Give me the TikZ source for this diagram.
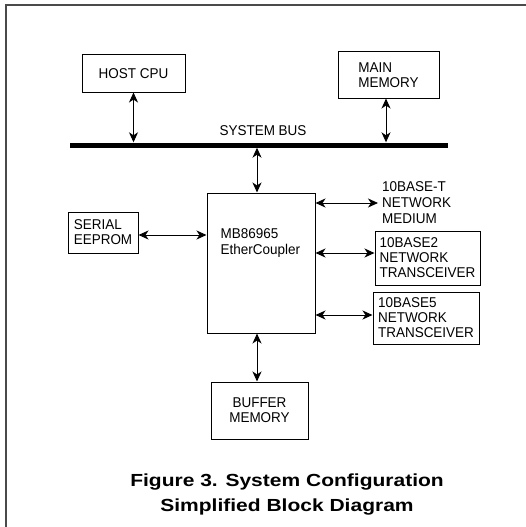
\documentclass[tikz,border=0pt]{standalone}
\usepackage{fontspec}
\setmainfont[FakeStretch=0.95]{Liberation Sans}
\newfontfamily\capfont[FakeStretch=1.2]{Liberation Sans}
\usepackage{tikz}
\usetikzlibrary{arrows.meta}
\definecolor{FigFrame}{HTML}{4A4A4A}

\begin{document}
\begin{tikzpicture}[x=1pt,y=-1pt,
  blk/.style={draw,line width=1pt,inner sep=3pt,font=\fontsize{14.2}{15}\selectfont},
  txt/.style={inner sep=0pt,align=left,font=\fontsize{14.2}{16}\selectfont},
  busline/.style={fill=black,inner sep=0pt,minimum height=5pt},
  biarrow/.style={{Stealth[length=10pt,width=9pt,inset=3pt]}-{Stealth[length=10pt,width=9pt,inset=3pt]},line width=0.9pt}]
\useasboundingbox (0,0) rectangle (526,527);
\draw[FigFrame,line width=2pt] (6,527) |- (526,5);

% bus and what hangs on it
\node[busline,minimum width=378pt] (bus) at (259,145) {};
\node[txt] (buslab) at (263,131) {SYSTEM BUS};
\node[blk,minimum width=103pt,minimum height=37pt] (cpu) at (133.5,73.5) {HOST CPU};
\node[blk,align=left,minimum width=101pt,minimum height=46pt] (mainmem) at (388.5,75) {MAIN\\MEMORY};

% controller and its neighbours
\node[blk,minimum width=108pt,minimum height=140pt] (chip) at (261,263) {};
\node[txt,anchor=west] (chiplab) at ([xshift=14pt,yshift=20pt]chip.west) {MB86965\\EtherCoupler};
\node[blk,align=left,minimum width=70pt,minimum height=41pt] (eeprom) at (103,232.5) {SERIAL\\EEPROM};
\node[txt,anchor=west] (tbase) at (382,203) {10BASE-T\\NETWORK\\MEDIUM};
\node[blk,align=left,minimum width=105pt,minimum height=54pt] (btwo) at (427.5,258) {10BASE2\\NETWORK\\TRANSCEIVER};
\node[blk,align=left,minimum width=106pt,minimum height=52pt] (bfive) at (426,318) {10BASE5\\NETWORK\\TRANSCEIVER};
\node[blk,align=center,minimum width=97pt,minimum height=57pt] (buffer) at (259.5,410.5) {BUFFER\\MEMORY};

\draw[biarrow] (cpu.south) -- (cpu.south |- bus.north);
\draw[biarrow] ([xshift=-2.5pt]mainmem.south) -- ([xshift=-2.5pt]mainmem.south |- bus.north);
\draw[biarrow] ([xshift=-4pt]chip.north) -- ([xshift=-4pt]chip.north |- bus.south);
\draw[biarrow] ([yshift=-2.5pt]eeprom.east) -- ([yshift=-2.5pt]eeprom.east -| chip.west);
\draw[biarrow] (tbase.west -| chip.east) -- ([xshift=-4pt]tbase.west);
\draw[biarrow] ([yshift=5pt]btwo.west -| chip.east) -- ([yshift=5pt]btwo.west);
\draw[biarrow] ([yshift=3pt]bfive.west -| chip.east) -- ([yshift=3pt]bfive.west);
\draw[biarrow] ([xshift=-4pt]chip.south) -- ([xshift=-4pt]chip.south |- buffer.north);

\node[font=\capfont\bfseries\fontsize{17.5}{25}\selectfont,align=center] (caption) at (287,494.5) {Figure 3. System Configuration\\Simplified Block Diagram};
\end{tikzpicture}
\end{document}
